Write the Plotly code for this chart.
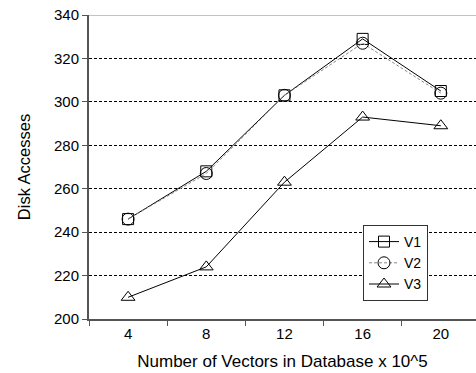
import plotly.graph_objects as go

categories = ["4", "8", "12", "16", "20"]
v1 = [246, 268, 303, 329, 305]
v2 = [246, 267, 303, 327, 304]
v3 = [210, 224, 263, 293, 289]
y_ticks = [200, 220, 240, 260, 280, 300, 320, 340]

xi = list(range(len(categories)))
font = "Liberation Sans, Arial, sans-serif"

fig = go.Figure()
fig.add_trace(go.Scatter(x=xi, y=v1, name="V1", mode="lines+markers",
                         line=dict(color="black", width=1),
                         marker=dict(symbol="square-open", size=11, color="black", line=dict(width=1))))
fig.add_trace(go.Scatter(x=xi, y=v2, name="V2", mode="lines+markers",
                         line=dict(color="#888888", width=1, dash="3px,2px"),
                         marker=dict(symbol="circle-open", size=12, color="black", line=dict(width=1))))
fig.add_trace(go.Scatter(x=xi, y=v3, name="V3", mode="lines+markers",
                         line=dict(color="black", width=1),
                         marker=dict(symbol="triangle-up-open", size=12, color="black", line=dict(width=1))))

fig.add_shape(type="line", xref="paper", yref="y", x0=0, x1=1, y0=340, y1=340,
              line=dict(color="#888888", width=1))

fig.update_layout(
    width=476, height=373,
    margin=dict(l=89, r=0, t=15, b=54),
    paper_bgcolor="white", plot_bgcolor="white",
    font=dict(family=font, size=15, color="black"),
    showlegend=True,
    legend=dict(x=(363 - 89) / (476 - 89), y=(319 - 225) / (319 - 15), xanchor="left", yanchor="top",
                bgcolor="white", bordercolor="#333333", borderwidth=1,
                font=dict(size=14), tracegroupgap=0, itemwidth=30),
    xaxis=dict(range=[-0.5, 4.45], tickvals=xi, ticktext=categories, ticks="",
               showgrid=False, zeroline=False, showline=True, linecolor="#555555", linewidth=2,
               minor=dict(tick0=-0.5, dtick=1, ticks="outside", ticklen=5, tickcolor="#555555", showgrid=False),
               title=dict(text="Number of Vectors in Database x 10^5", font=dict(size=17), standoff=14),
               tickfont=dict(size=15)),
    yaxis=dict(range=[200, 340], tickvals=y_ticks, ticks="outside", ticklen=5, tickcolor="#555555",
               showgrid=True, gridcolor="black", gridwidth=1, griddash="3px,2px", zeroline=False,
               showline=True, linecolor="#555555", linewidth=2,
               title=dict(text="Disk Accesses", font=dict(size=16.5), standoff=19),
               tickfont=dict(size=15)),
)

fig.write_html("out.html")
